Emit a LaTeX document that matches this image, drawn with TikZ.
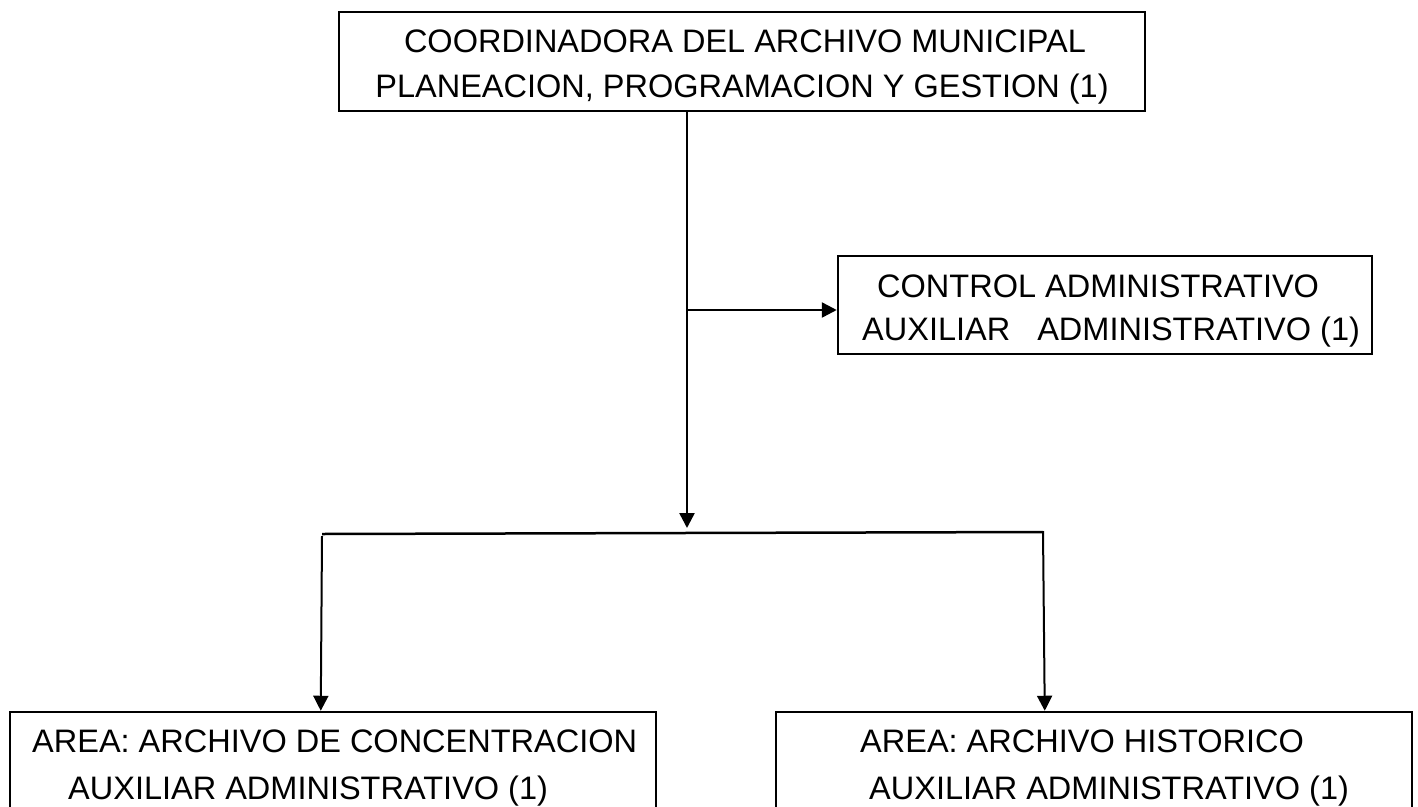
\documentclass[tikz,border=0pt]{standalone}
\usepackage{fontspec}
\setmainfont{Liberation Sans}
\usetikzlibrary{arrows.meta,calc}
\begin{document}
\begin{tikzpicture}[x=1pt,y=-1pt,
  box/.style={draw,line width=2.5pt,inner sep=0pt},
  lbl/.style={inner sep=0pt,font=\fontsize{32.5}{40}\selectfont},
  conn/.style={line width=2.5pt},
  arr/.style={line width=2.5pt,-{Triangle[length=15pt,width=15pt]}},
  thinarr/.style={line width=2pt,-{Triangle[length=15pt,width=15pt]}}]
\useasboundingbox (0,0) rectangle (1418,806);
\clip (0,0) rectangle (1418,806);
\fill[white] (0,0) rectangle (1418,806);
% boxes
\node[box,minimum width=806pt,minimum height=99pt] (top) at (742,61.5) {};
\node[box,minimum width=534pt,minimum height=98pt] (ctrl) at (1105,305) {};
\node[box,minimum width=646pt,minimum height=188pt] (left) at (333,806) {};
\node[box,minimum width=636pt,minimum height=188pt] (right) at (1094,806) {};
% texts
\node[lbl,anchor=base] (t1) at (745,52) {COORDINADORA DEL ARCHIVO MUNICIPAL};
\node[lbl,anchor=base] (t2) at (742,97) {PLANEACION, PROGRAMACION Y GESTION (1)};
\node[lbl,anchor=base west] (c1) at (877,297) {CONTROL ADMINISTRATIVO};
\node[lbl,anchor=base west] (c2) at (862,340) {AUXILIAR\hspace{27pt}ADMINISTRATIVO (1)};
\node[lbl,anchor=base west] (l1) at (32,752) {AREA: ARCHIVO DE CONCENTRACION};
\node[lbl,anchor=base west] (l2) at (68,799) {AUXILIAR ADMINISTRATIVO (1)};
\node[lbl,anchor=base west] (r1) at (860,752) {AREA: ARCHIVO HISTORICO};
\node[lbl,anchor=base west] (r2) at (869,799) {AUXILIAR ADMINISTRATIVO (1)};
% connector points
\coordinate (tip) at (687,528);
\coordinate (br) at (687,310);
\coordinate (busL) at (322,534);
\coordinate (busR) at (1043,532);
% connectors
\draw[arr] (top.south -| tip) -- (tip);
\draw[arr] (br) -- (br -| ctrl.west);
\draw[conn] (busL) -- (busR);
\draw[thinarr] ([yshift=-2pt]busL) -- ([xshift=312pt]left.north west);
\draw[thinarr] ([yshift=1pt]busR) -- ([xshift=270pt]right.north west);
\end{tikzpicture}
\end{document}
